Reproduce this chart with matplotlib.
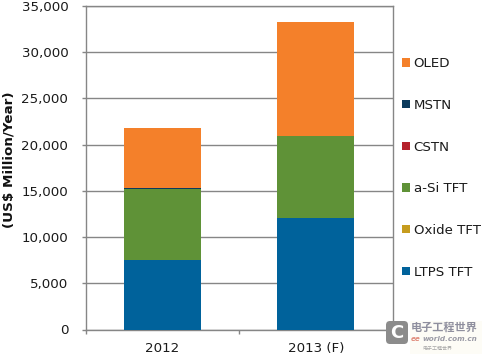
import matplotlib
matplotlib.use("Agg")
import matplotlib.pyplot as plt
from matplotlib.patches import Patch, FancyBboxPatch
from matplotlib.transforms import Affine2D

years = ["2012", "2013 (F)"]
series_names = ["LTPS TFT", "Oxide TFT", "a-Si TFT", "CSTN", "MSTN", "OLED"]
ltps = [7500, 12050]
oxide = [0, 0]
asi = [7700, 8900]
cstn = [50, 0]
mstn = [50, 0]
oled = [6500, 12350]
series = [ltps, oxide, asi, cstn, mstn, oled]
colors = ["#00629B", "#C69C1E", "#5F9237", "#B5202B", "#0B3A5C", "#F4802A"]
yticks = [0, 5000, 10000, 15000, 20000, 25000, 30000, 35000]
ylabel = "(US$ Million/Year)"

W, H = 483, 356
fig = plt.figure(figsize=(W / 100, H / 100), dpi=100, facecolor="white")
L, R, T, B = 85.5, 392.5, 6, 329.5
ax = fig.add_axes([L / W, 1 - B / H, (R - L) / W, (B - T) / H])
gc = "#868686"
tc = "#1a1a1a"
x = range(len(years))
bottom = [0, 0]
for vals, c in zip(series, colors):
    ax.bar(x, vals, width=0.5, bottom=bottom, color=c, linewidth=0, zorder=3)
    bottom = [b + v for b, v in zip(bottom, vals)]
ax.set_xlim(-0.5, 1.5)
ax.set_ylim(0, 35000)
ax.set_yticks(yticks)
ax.set_yticklabels([f"{v:,}" for v in yticks], fontsize=9.6, color=tc)
ax.set_xticks([-0.5, 0.5, 1.5], minor=False)
ax.set_xticklabels([])
ax.set_xticks(list(x), minor=True)
ax.set_xticklabels(years, minor=True, fontsize=9.6, color=tc)
ax.tick_params(axis="x", which="minor", length=0, pad=9)
ax.tick_params(axis="x", which="major", length=3.2, color=gc, width=1)
ax.tick_params(axis="y", length=3.2, color=gc, width=1, pad=9.2)
ax.grid(axis="y", color=gc, linewidth=1, zorder=1)
for s in ax.spines.values():
    s.set_color(gc)
    s.set_linewidth(1)

fig.text(9 / W, 1 - 159.5 / H, ylabel, rotation=90, fontsize=9.7, fontweight="bold",
         ha="center", va="center", color="#111111")

handles = [Patch(facecolor=c, edgecolor="none") for c in colors]
leg = fig.legend(handles[::-1], series_names[::-1], loc="center left",
                 bbox_to_anchor=(402 / W, 1 - 168 / H), frameon=False, fontsize=9.6,
                 labelspacing=2.15, handlelength=0.58, handleheight=0.58, handletextpad=0.3,
                 borderpad=0, borderaxespad=0, labelcolor=tc)

# watermark (pixel coordinates from the top-left corner)
px = Affine2D().scale(1, -1).translate(0, H)
fig.add_artist(FancyBboxPatch((410, 321), 72, 33, boxstyle="square,pad=0", facecolor="#fdfcf6",
                              edgecolor="none", transform=px, zorder=5))
fig.add_artist(FancyBboxPatch((388, 323), 18, 19, boxstyle="round,pad=2,rounding_size=4",
                              facecolor="#8c8c8c", edgecolor="none", transform=px, zorder=6))
cjk = ["Noto Sans CJK SC", "DejaVu Sans"]
fig.text(397 / W, 1 - 332.5 / H, "C", fontsize=13, fontweight="bold", color="white",
         ha="center", va="center", zorder=7)
fig.text(411 / W, 1 - 327 / H, "电子工程世界", fontsize=8, fontweight="bold", color="#8f8f9e",
         ha="left", va="center", family=cjk, zorder=7)
fig.text(411 / W, 1 - 339 / H, "ee", fontsize=5.2, fontstyle="italic", fontweight="bold",
         color="#e08a7a", ha="left", va="center", zorder=7)
fig.text(422 / W, 1 - 339 / H, "world.com.cn", fontsize=5.2, fontstyle="italic", fontweight="bold",
         color="#9a9aa5", ha="left", va="center", zorder=7)
fig.text(422 / W, 1 - 348.5 / H, "电子工程世界", fontsize=3.6, color="#a8a8a8",
         ha="left", va="center", family=cjk, zorder=7)
fig.savefig("out.png", dpi=100)
